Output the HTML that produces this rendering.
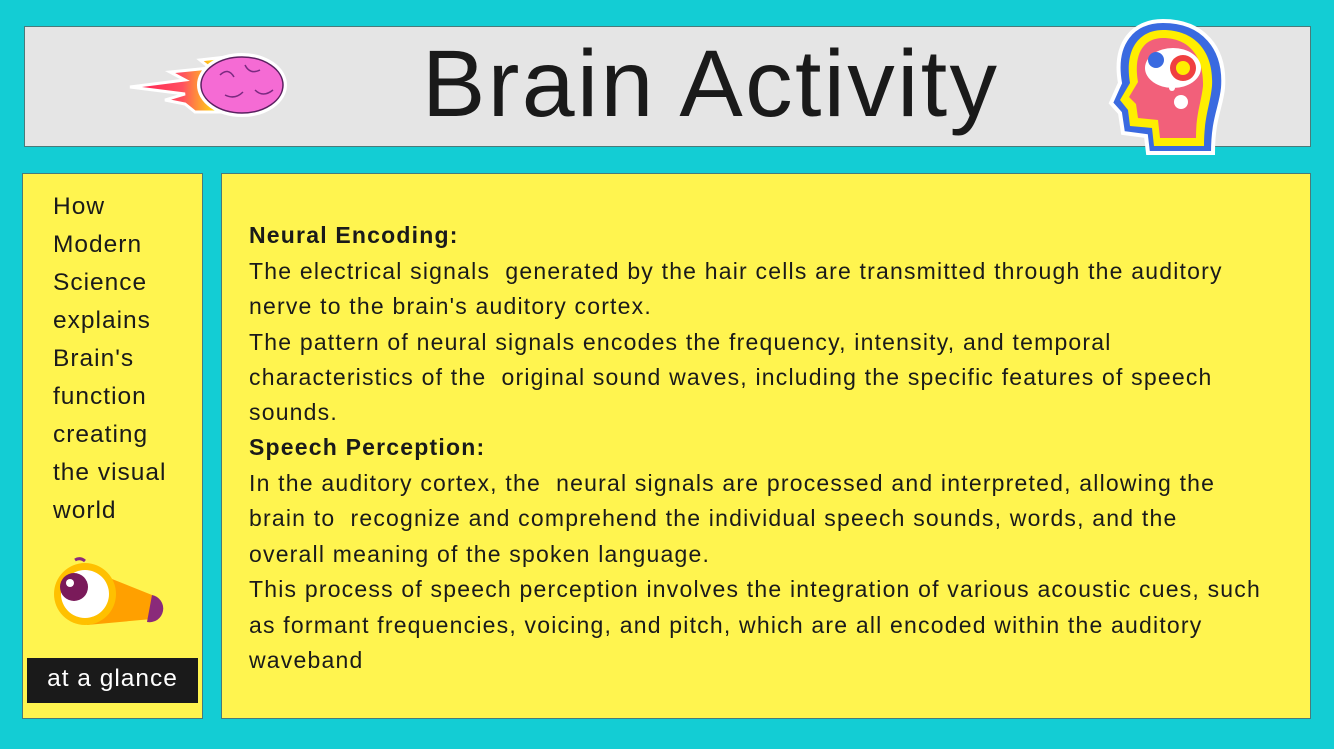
<!DOCTYPE html>
<html><head><meta charset="utf-8"><style>
body{margin:0;width:1334px;height:749px;background:#13cdd4;position:relative;overflow:hidden;font-family:"Liberation Sans",sans-serif;color:#1a1a1a}
.box{position:absolute;box-sizing:border-box;border:1px solid #4a7a7a}
.t{position:absolute;white-space:nowrap}
.main div{position:absolute;left:27px;white-space:nowrap;font-size:23px;letter-spacing:1.2px}
.left div{position:absolute;left:30px;font-size:24.5px;white-space:nowrap;letter-spacing:1px}
</style></head><body>
<div class="box" style="left:24px;top:26px;width:1287px;height:121px;background:#e5e5e5"></div>
<div class="t" style="left:422px;top:30px;font-size:95px;letter-spacing:2.4px;color:#1a1a1a">Brain Activity</div>
<svg style="position:absolute;left:125px;top:50px" width="165" height="70">
<defs><linearGradient id="f" x1="0" x2="1"><stop offset="0" stop-color="#ff1a4f"/><stop offset="0.5" stop-color="#ff5060"/><stop offset="0.85" stop-color="#ffee00"/></linearGradient></defs>
<path d="M5,37 L60,30 L45,22 L85,18 L75,10 L110,6 L110,62 L70,62 L60,54 L40,50 L60,44 Z" fill="url(#f)" stroke="#fff" stroke-width="3"/>
<ellipse cx="117" cy="35" rx="43" ry="30" fill="#f56bd4" stroke="#fff" stroke-width="4"/>
<ellipse cx="117" cy="35" rx="41" ry="28" fill="none" stroke="#5a2060" stroke-width="1.5"/>
<path d="M95,25 q8,-8 14,2 M120,15 q5,10 15,5 M100,45 q10,5 18,-3 M130,40 q8,8 18,0" stroke="#7a2a80" stroke-width="1.5" fill="none"/>
</svg>
<svg style="position:absolute;left:1108px;top:18px" width="120" height="138">
<path d="M55,3 C95,3 118,30 115,70 C113,90 105,100 105,135 L40,135 L38,118 L15,115 L12,95 L3,85 L12,65 C5,25 25,3 55,3Z" fill="#3a6ae0" stroke="#fff" stroke-width="4"/>
<path d="M55,12 C88,12 106,35 104,68 C102,88 96,98 96,128 L46,128 L44,110 L22,108 L20,92 L12,82 L22,65 C16,30 32,12 55,12Z" fill="#ffee00"/>
<path d="M55,20 C82,20 96,40 95,68 C93,86 88,95 88,120 L52,120 L50,102 L30,100 L28,86 L21,79 L30,64 C25,35 36,20 55,20Z" fill="#f2607a"/>
<ellipse cx="65" cy="50" rx="28" ry="20" fill="#fff"/>
<circle cx="48" cy="42" r="8" fill="#3a6ae0"/><circle cx="75" cy="50" r="13" fill="#f04040"/><circle cx="75" cy="50" r="7" fill="#ffee00"/>
<circle cx="73" cy="84" r="7" fill="#fff"/><circle cx="64" cy="70" r="3" fill="#fff"/>
</svg>
<div class="box left" style="left:22px;top:173px;width:181px;height:546px;background:#fff44f">
<div style="top:19px">How</div><div style="top:57px">Modern</div><div style="top:95px">Science</div><div style="top:133px">explains</div><div style="top:171px">Brain's</div><div style="top:209px">function</div><div style="top:247px">creating</div><div style="top:285px">the visual</div><div style="top:323px">world</div>
<svg style="position:absolute;left:24px;top:383px" width="120" height="70">
<path d="M40,12 L110,40 L105,62 L40,68 Z" fill="#ffa000"/>
<path d="M105,38 A12,12 0 1,1 100,65 Z" fill="#8a2a7a"/>
<circle cx="38" cy="37" r="31" fill="#ffc000"/><circle cx="38" cy="37" r="24" fill="#fff"/>
<circle cx="27" cy="30" r="14" fill="#7a1a5a"/><circle cx="23" cy="26" r="4" fill="#fff"/>
<path d="M28,3 Q33,0 38,4" stroke="#8a2a7a" stroke-width="3" fill="none"/>
</svg>
<div style="left:4px;top:484px;width:171px;height:45px;background:#1a1a1a;color:#fff;text-align:center;line-height:42px;font-size:24.5px">at a glance</div>
</div>
<div class="box main" style="left:221px;top:173px;width:1090px;height:546px;background:#fff44f">
<div style="top:48px;font-weight:bold">Neural Encoding:</div>
<div style="top:84px">The electrical signals &nbsp;generated by the hair cells are transmitted through the auditory</div>
<div style="top:119px">nerve to the brain's auditory cortex.</div>
<div style="top:155px">The pattern of neural signals encodes the frequency, intensity, and temporal</div>
<div style="top:190px">characteristics of the &nbsp;original sound waves, including the specific features of speech</div>
<div style="top:225px">sounds.</div>
<div style="top:260px;font-weight:bold">Speech Perception:</div>
<div style="top:296px">In the auditory cortex, the &nbsp;neural signals are processed and interpreted, allowing the</div>
<div style="top:331px">brain to &nbsp;recognize and comprehend the individual speech sounds, words, and the</div>
<div style="top:367px">overall meaning of the spoken language.</div>
<div style="top:402px">This process of speech perception involves the integration of various acoustic cues, such</div>
<div style="top:438px">as formant frequencies, voicing, and pitch, which are all encoded within the auditory</div>
<div style="top:473px">waveband</div>
</div>
</body></html>
